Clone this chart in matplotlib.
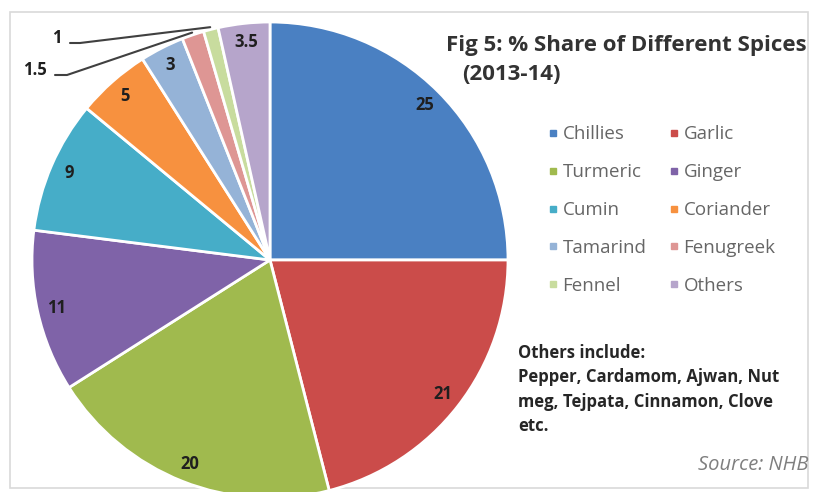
import matplotlib
matplotlib.use("Agg")
import matplotlib.pyplot as plt
from matplotlib.lines import Line2D
from matplotlib.patches import Rectangle
import numpy as np

# data
spices = ["Chillies", "Garlic", "Turmeric", "Ginger", "Cumin",
          "Coriander", "Tamarind", "Fenugreek", "Fennel", "Others"]
share = [25, 21, 20, 11, 9, 5, 3, 1.5, 1, 3.5]
share_labels = ["25", "21", "20", "11", "9", "5", "3", "1.5", "1", "3.5"]
colors = ["#4A80C2", "#CB4C4A", "#A0BA4E", "#7F63A8", "#46ADC8",
          "#F7913F", "#95B3D7", "#DE9694", "#C8DC9E", "#B6A5CB"]
others_note = "Others include:\nPepper, Cardamom, Ajwan, Nut\nmeg, Tejpata, Cinnamon, Clove\netc."

plt.rcParams['font.family'] = ['Open Sans', 'DejaVu Sans']

W, H = 813, 492
fig = plt.figure(figsize=(W / 100, H / 100), dpi=100)
ax = fig.add_axes([0, 0, 1, 1])

# pie in pixel coords (y up)
cx, cy, R = 270, 232, 238
wedges, _ = ax.pie(share, center=(cx, cy), radius=R, startangle=90,
                   counterclock=False, colors=colors,
                   wedgeprops=dict(edgecolor="white", linewidth=2))
ax.set_xlim(0, W)
ax.set_ylim(0, H)
ax.set_aspect("auto")
ax.axis("off")

# frame
ax.add_patch(Rectangle((10, 4), 798, 476, fill=False, edgecolor="#D9D9D9",
                       linewidth=1.2, zorder=0))

# value labels
for w, lab in zip(wedges, share_labels):
    mid = np.deg2rad((w.theta1 + w.theta2) / 2)
    if lab in ("1.5", "1"):
        continue
    ax.text(cx + 0.92 * R * np.cos(mid), cy + 0.92 * R * np.sin(mid), lab,
            ha="center", va="center", fontsize=12, fontweight="bold",
            color="#1F1F1F")

# leader labels for small slices
leader = {"1.5": (35, H - 70, [(55, H - 75), (67, H - 75)]),
          "1": (57, H - 38, [(70, H - 43), (80, H - 43)])}
for w, lab in zip(wedges, share_labels):
    if lab not in leader:
        continue
    mid = np.deg2rad((w.theta1 + w.theta2) / 2)
    tx, ty, pts = leader[lab]
    ex, ey = cx + 1.01 * R * np.cos(mid), cy + 1.01 * R * np.sin(mid)
    xs = [p[0] for p in pts] + [ex]
    ys = [p[1] for p in pts] + [ey]
    ax.plot(xs, ys, color="#404040", lw=1.5, solid_capstyle="round")
    ax.text(tx, ty, lab, ha="center", va="center", fontsize=12,
            fontweight="bold", color="#1F1F1F")

# title
ax.text(446, H - 45, "Fig 5: % Share of Different Spices", ha="left",
        va="center", fontsize=16, fontweight="bold", color="#333333")
ax.text(462, H - 75, "(2013-14)", ha="left", va="center", fontsize=16,
        fontweight="bold", color="#333333")

# legend, row-wise order
order = [0, 2, 4, 6, 8, 1, 3, 5, 7, 9]
handles = [Line2D([], [], marker="s", ls="", color=colors[i], markersize=5)
           for i in order]
leg = ax.legend(handles, [spices[i] for i in order], ncol=2, frameon=False,
                loc="upper left", bbox_to_anchor=(539 / W, 1 - 116 / H),
                fontsize=13.5, handlelength=0.5, handletextpad=0.25,
                labelspacing=1.06, columnspacing=1.23, borderpad=0)
for t in leg.get_texts():
    t.set_color("#666666")

# notes
ax.text(518, H - 344, others_note, ha="left", va="top", fontsize=12,
        fontweight="bold", color="#262626", linespacing=1.45)
ax.text(808, H - 465, "Source: NHB", ha="right", va="center", fontsize=14.5,
        style="italic", color="#7F7F7F")

fig.savefig("out.png", dpi=100)
